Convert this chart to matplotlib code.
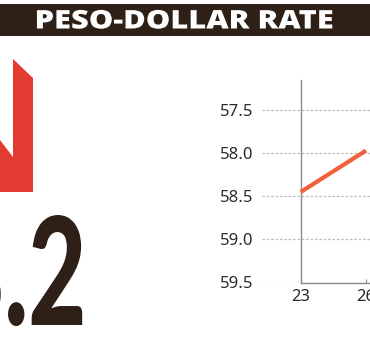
import matplotlib
matplotlib.use("Agg")
import matplotlib.pyplot as plt
from matplotlib.patches import Rectangle, Polygon
from matplotlib.transforms import Affine2D
from matplotlib.patheffects import AbstractPathEffect

# ---- data ----
title = "PESO-DOLLAR RATE"
headline_value = "58.2"
days = [23, 26]
rates = [58.45, 57.97]
ytick_values = [57.5, 58.0, 58.5, 59.0, 59.5]
xtick_values = [23, 26]
xtick_labels = ["23", "26"]

W, H = 370, 352
fig = plt.figure(figsize=(W / 100, H / 100), dpi=100)
fig.patch.set_facecolor("white")
px = Affine2D().scale(1 / W, -1 / H).translate(0, 1) + fig.transFigure

DARK = "#2e2016"
RED = "#e33b32"
ORANGE = "#f0603a"


class Squeeze(AbstractPathEffect):
    def __init__(self, sx, x0):
        super().__init__()
        self.sx = sx
        self.x0 = x0

    def draw_path(self, renderer, gc, tpath, affine, rgbFace=None):
        aff = affine + Affine2D().translate(-self.x0, 0).scale(self.sx, 1).translate(self.x0, 0)
        renderer.draw_path(gc, tpath, aff, rgbFace)


# header bar
fig.add_artist(Rectangle((0, 4), W, 32, transform=px, facecolor=DARK, edgecolor="none"))
fig.text(184.5 / W, 1 - 21.5 / H, title, ha="center", va="center", color="white",
         fontsize=18.5, fontweight="heavy", family="Open Sans",
         path_effects=[Squeeze(1.2, 184.5)])

# red arrow (partial)
fig.add_artist(Polygon([(13, 59), (33, 78), (33, 192), (0, 192), (0, 140), (13, 157)],
                       closed=True, transform=px, facecolor=RED, edgecolor="none"))

# big number
fig.text(86.5 / W, 1 - 325 / H, headline_value, ha="right", va="baseline", color=DARK,
         fontsize=108, fontweight="black", family="Lato",
         path_effects=[Squeeze(0.67, 86.5)])

# chart axes
x_left_px, x_right_px = 262, 262 + 191.1
y_top_px, y_bot_px = 80, 282.5
ax = fig.add_axes([x_left_px / W, 1 - y_bot_px / H,
                   (x_right_px - x_left_px) / W, (y_bot_px - y_top_px) / H])
ax.set_facecolor("none")
ax.set_xlim(21.22, 30)
ax.set_ylim(59.5, 57.152)

ax.plot(days, rates, color=ORANGE, lw=3.0, solid_capstyle="butt", zorder=3)

ax.set_yticks(ytick_values)
ax.set_yticklabels([f"{v:.1f}" for v in ytick_values])
ax.set_xticks(xtick_values)
ax.set_xticklabels(xtick_labels)

for v in ytick_values:
    ax.axhline(v, color="#bdbdbd", lw=0.9, ls=(0, (2, 1.5)), zorder=1)

for s in ["top", "right"]:
    ax.spines[s].set_visible(False)
ax.spines["left"].set_position(("data", 23))
ax.spines["bottom"].set_bounds(23, 30)
for s in ["left", "bottom"]:
    ax.spines[s].set_color("#8a8a8a")
    ax.spines[s].set_linewidth(1.0)
    ax.spines[s].set_zorder(2)

ax.tick_params(axis="y", length=0, pad=34, labelsize=12, labelcolor="#2b2b2b")
ax.tick_params(axis="x", direction="in", length=3, color="#8a8a8a", pad=5,
               labelsize=12, labelcolor="#2b2b2b")
for lab in ax.get_xticklabels() + ax.get_yticklabels():
    lab.set_family("Noto Sans")

fig.savefig("out.png", dpi=100)
